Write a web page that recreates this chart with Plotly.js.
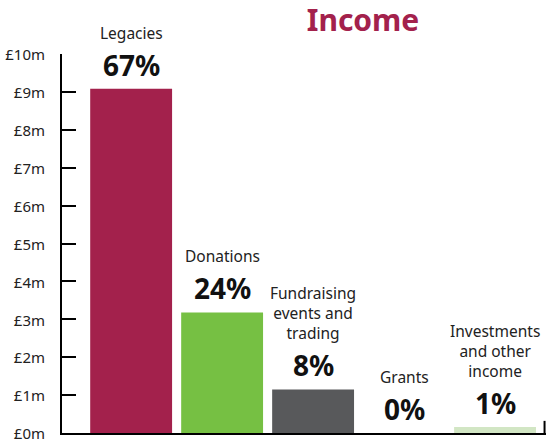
<!DOCTYPE html>
<html>
<head>
<meta charset="utf-8">
<script src="https://cdn.plot.ly/plotly-3.0.1.min.js"></script>
<style>html,body{margin:0;padding:0;background:#fff;}#chart{width:548px;height:442px;}</style>
</head>
<body>
<div id="chart"></div>
<script>
// Data (values in £ millions)
const categories = ["Legacies", "Donations", "Fundraising events and trading", "Grants", "Investments and other income"];
const labelLines = ["Legacies", "Donations", "Fundraising<br>events and<br>trading", "Grants", "Investments<br>and other<br>income"];
const values = [9.08, 3.18, 1.15, 0.0, 0.16];
const percents = ["67%", "24%", "8%", "0%", "1%"];
const colors = ["#a3214c", "#76c043", "#58595b", "#cccccc", "#d2e6c4"];
const tickVals = [0,1,2,3,4,5,6,7,8,9,10];
const tickText = ["£0m","£1m","£2m","£3m","£4m","£5m","£6m","£7m","£8m","£9m","£10m"];

const FONT = "Noto Sans, Open Sans, sans-serif";

const trace = {
  type: "bar",
  x: categories,
  y: values,
  marker: {color: colors},
  hoverinfo: "skip",
  cliponaxis: false
};

const annotations = [];
categories.forEach((c, i) => {
  annotations.push({
    x: c, y: values[i], xref: "x", yref: "y",
    text: "<b>" + percents[i] + "</b>",
    showarrow: false, yanchor: "bottom", yshift: 3,
    font: {family: FONT, size: 28, color: "#111"}
  });
  annotations.push({
    x: c, y: values[i], xref: "x", yref: "y",
    text: labelLines[i],
    showarrow: false, yanchor: "bottom", yshift: 43,
    font: {family: FONT, size: 15.5, color: "#222"}
  });
});

const layout = {
  width: 548, height: 442,
  margin: {l: 62, r: 2, t: 54, b: 9},
  paper_bgcolor: "#fff", plot_bgcolor: "#fff",
  showlegend: false,
  bargap: 0.1,
  title: {
    text: "<b>Income</b>",
    font: {family: FONT, size: 30, color: "#a3214c"},
    x: 363/548, xanchor: "center", y: 1 - 20/442, yanchor: "middle"
  },
  xaxis: {
    type: "category",
    range: [-0.76, 4.56],
    showline: true, linecolor: "#000", linewidth: 2,
    showticklabels: false, ticks: "", showgrid: false, zeroline: false,
    fixedrange: true
  },
  yaxis: {
    range: [0, 10],
    tickvals: tickVals, ticktext: tickText,
    ticks: "inside", ticklen: 14, tickwidth: 2, tickcolor: "#000",
    showline: true, linecolor: "#000", linewidth: 2,
    showgrid: false, zeroline: false,
    ticklabelstandoff: 12,
    ticklabelshift: 1,
    ticklabeloverflow: "allow",
    tickfont: {family: FONT, size: 15, color: "#222"},
    fixedrange: true
  },
  shapes: [{
    type: "line", xref: "paper", yref: "y",
    x0: 0.997, x1: 0.997, y0: 0, y1: 0.32,
    line: {color: "#000", width: 2}
  }],
  annotations: annotations
};

Plotly.newPlot("chart", [trace], layout, {displayModeBar: false, staticPlot: true});
</script>
</body>
</html>
